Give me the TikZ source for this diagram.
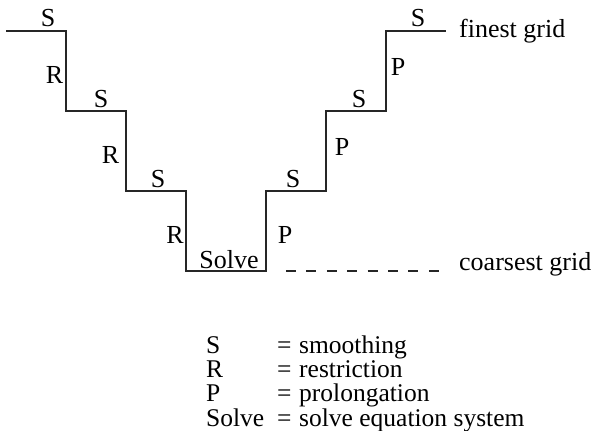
\documentclass[tikz,border=0pt]{standalone}
\usepackage{fontspec}
\setmainfont{Liberation Serif}
\begin{document}
\begin{tikzpicture}[x=1pt,y=-1pt,
  lbl/.style={inner sep=0pt,anchor=base,font=\fontsize{26}{30}\selectfont},
  lblw/.style={lbl,anchor=base west},
  leg/.style={lblw,font=\fontsize{25.5}{29}\selectfont},
  stair/.style={draw=black!85,line width=1.4pt},
  dashline/.style={draw=black!85,line width=1.4pt,dash pattern=on 10pt off 10.4pt}]
\useasboundingbox (0,0) rectangle (595,431);
% staircase corners
\coordinate (c0) at (6,31);
\coordinate (c1) at (66,31);
\coordinate (c2) at (66,111);
\coordinate (c3) at (126,111);
\coordinate (c4) at (126,191);
\coordinate (c5) at (186,191);
\coordinate (c6) at (186,271);
\coordinate (c7) at (266,271);
\coordinate (c8) at (266,191);
\coordinate (c9) at (326,191);
\coordinate (c10) at (326,111);
\coordinate (c11) at (386,111);
\coordinate (c12) at (386,31);
\coordinate (c13) at (446,31);
\coordinate (d0) at (286,271);
\coordinate (d1) at (439,271);
\draw[stair] (c0) -- (c1) -- (c2) -- (c3) -- (c4) -- (c5) -- (c6) -- (c7) -- (c8) -- (c9) -- (c10) -- (c11) -- (c12) -- (c13);
\draw[dashline] (d0) -- (d1);
% labels
\node[lbl] (s1) at (48,27) {S};
\node[lbl] (r1) at (54.5,83) {R};
\node[lbl] (s2) at (101,107) {S};
\node[lbl] (r2) at (110.5,163) {R};
\node[lbl] (s3) at (158,187) {S};
\node[lbl] (r3) at (175,243) {R};
\node[lbl] (solve) at (229,268) {Solve};
\node[lbl] (p1) at (285,243) {P};
\node[lbl] (s4) at (293,187) {S};
\node[lbl] (p2) at (342,155) {P};
\node[lbl] (s5) at (359,107) {S};
\node[lbl] (p3) at (398,75) {P};
\node[lbl] (s6) at (418,27) {S};
\node[lblw] (fine) at (459,37.5) {finest grid};
\node[lblw] (coarse) at (459,270) {coarsest grid};
% legend
\node[leg] (k1) at (206,353.5) {S};
\node[leg] (e1) at (277,353.5) {=};
\node[leg] (t1) at (299,353.5) {smoothing};
\node[leg] (k2) at (206,377.5) {R};
\node[leg] (e2) at (277,377.5) {=};
\node[leg] (t2) at (299,377.5) {restriction};
\node[leg] (k3) at (206,401.5) {P};
\node[leg] (e3) at (277,401.5) {=};
\node[leg] (t3) at (299,401.5) {prolongation};
\node[leg] (k4) at (206,426) {Solve};
\node[leg] (e4) at (277,426) {=};
\node[leg] (t4) at (299,426) {solve equation system};
\end{tikzpicture}
\end{document}
